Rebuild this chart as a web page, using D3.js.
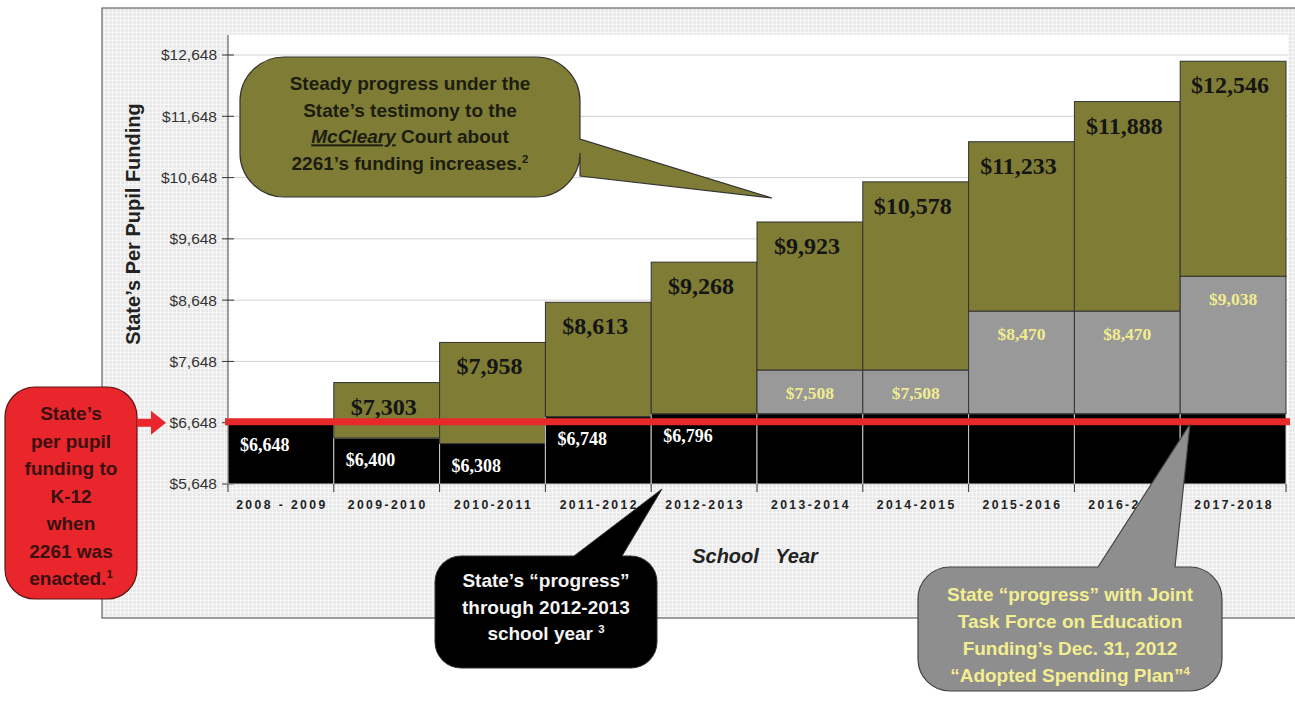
<!DOCTYPE html>
<html>
<head>
<meta charset="utf-8">
<script src="https://cdn.jsdelivr.net/npm/d3@7"></script>
<style>
body { margin: 0; background: #fff; }
svg { display: block; font-family: "Liberation Sans", Arial, sans-serif; }
</style>
</head>
<body>
<script>
// values
var years = ["2008 - 2009", "2009-2010", "2010-2011", "2011-2012", "2012-2013",
             "2013-2014", "2014-2015", "2015-2016", "2016-2017", "2017-2018"];
var actualVals = [6648, 6400, 6308, 6748, 6796, 6796, 6796, 6796, 6796, 6796]; // black
var planVals = [null, null, null, null, null, 7508, 7508, 8470, 8470, 9038];    // grey
var testimonyVals = [6648, 7303, 7958, 8613, 9268, 9923, 10578, 11233, 11888, 12546]; // olive
var yTicks = [5648, 6648, 7648, 8648, 9648, 10648, 11648, 12648];
var enactedVal = 6648;
var actualLabelCount = 5; // black values only labelled up to 2012-2013

var W = 1295, H = 704;
var OLIVE = "#7e7c35", GREY = "#999999", RED = "#e8262b";

var svg = d3.select("body").append("svg")
    .attr("width", W).attr("height", H);

// hatched grey panel behind the chart
var pat = svg.append("defs").append("pattern")
    .attr("id", "grid").attr("width", 4).attr("height", 4)
    .attr("patternUnits", "userSpaceOnUse");
pat.append("rect").attr("width", 4).attr("height", 4).attr("fill", "#e9e9e9");
pat.append("path").attr("d", "M0 0.5H4M0.5 0V4").attr("stroke", "#f6f6f6").attr("stroke-width", 1);

svg.append("rect").attr("x", 102).attr("y", 8).attr("width", 1200).attr("height", 610)
    .attr("fill", "url(#grid)").attr("stroke", "#444").attr("stroke-width", 1);

var x = d3.scaleBand().domain(years).range([228, 1286]).padding(0);
var y = d3.scaleLinear().domain([5648, 12648]).range([484, 55]);

// white plot area
svg.append("rect").attr("x", 228).attr("y", 35).attr("width", 1060).attr("height", 449).attr("fill", "#fff");

// gridlines
svg.append("g").selectAll("line").data(yTicks.slice(1)).enter().append("line")
    .attr("x1", 228).attr("x2", 1288)
    .attr("y1", function (d) { return y(d); }).attr("y2", function (d) { return y(d); })
    .attr("stroke", "#d2d2d2").attr("stroke-width", 1);

// y axis
svg.append("line").attr("x1", 228).attr("x2", 228).attr("y1", 35).attr("y2", 484)
    .attr("stroke", "#444");
var yt = svg.append("g").selectAll("g").data(yTicks).enter().append("g")
    .attr("transform", function (d) { return "translate(0," + y(d) + ")"; });
yt.append("line").attr("x1", 222).attr("x2", 234).attr("stroke", "#333");
yt.append("text").attr("x", 217).attr("dy", "0.35em").attr("text-anchor", "end")
    .attr("font-size", 15.5).attr("fill", "#333")
    .text(function (d) { return d3.format("$,")(d); });

svg.append("text").attr("transform", "translate(140,224) rotate(-90)")
    .attr("text-anchor", "middle").attr("font-size", 20).attr("font-weight", "bold").attr("fill", "#222")
    .text("State\u2019s Per Pupil Funding");

// stacked segments
var segs = [];
years.forEach(function (yr, i) {
    segs.push({ yr: yr, lo: 5648, hi: actualVals[i], fill: "#000", stroke: "#c8c8c8" });
    var top = actualVals[i];
    if (planVals[i] != null) {
        segs.push({ yr: yr, lo: top, hi: planVals[i], fill: GREY, stroke: "#333" });
        top = planVals[i];
    }
    if (testimonyVals[i] > top) {
        segs.push({ yr: yr, lo: top, hi: testimonyVals[i], fill: OLIVE, stroke: "#333" });
    }
});
svg.append("g").selectAll("rect").data(segs).enter().append("rect")
    .attr("x", function (d) { return x(d.yr); })
    .attr("width", x.bandwidth())
    .attr("y", function (d) { return y(d.hi); })
    .attr("height", function (d) { return y(d.lo) - y(d.hi); })
    .attr("fill", function (d) { return d.fill; })
    .attr("stroke", function (d) { return d.stroke; })
    .attr("stroke-width", 1);

var fmt = d3.format("$,");
var serif = "'Liberation Serif', 'Times New Roman', serif";

// olive totals
svg.append("g").selectAll("text").data(years.slice(1)).enter().append("text")
    .attr("x", function (d) { return x(d) + x.bandwidth() / 2 - 3; })
    .attr("y", function (d) { return y(testimonyVals[years.indexOf(d)]) + 32; })
    .attr("text-anchor", "middle").attr("font-family", serif).attr("font-weight", "bold")
    .attr("font-size", 24).attr("fill", "#151515")
    .text(function (d) { return fmt(testimonyVals[years.indexOf(d)]); });

// black values
svg.append("g").selectAll("text").data(years.slice(0, actualLabelCount)).enter().append("text")
    .attr("x", function (d) { return x(d) + 12; })
    .attr("y", function (d) { return y(actualVals[years.indexOf(d)]) + 28; })
    .attr("font-family", serif).attr("font-weight", "bold")
    .attr("font-size", 18).attr("fill", "#fff")
    .text(function (d) { return fmt(actualVals[years.indexOf(d)]); });

// grey plan values
svg.append("g").selectAll("text").data(years.filter(function (d, i) { return planVals[i] != null; }))
    .enter().append("text")
    .attr("x", function (d) { return x(d) + x.bandwidth() / 2; })
    .attr("y", function (d) { return y(planVals[years.indexOf(d)]) + 29; })
    .attr("text-anchor", "middle").attr("font-family", serif).attr("font-weight", "bold")
    .attr("font-size", 17.5).attr("fill", "#f1ec8e")
    .text(function (d) { return fmt(planVals[years.indexOf(d)]); });

// x axis ticks + labels
var xb = x.domain().map(function (d) { return x(d); }).concat([x.range()[1]]);
svg.append("g").selectAll("line").data(xb).enter().append("line")
    .attr("x1", function (d) { return d; }).attr("x2", function (d) { return d; })
    .attr("y1", 484).attr("y2", 492).attr("stroke", "#333");
svg.append("g").selectAll("text").data(years).enter().append("text")
    .attr("x", function (d) { return x(d) + x.bandwidth() / 2 + 1; })
    .attr("y", 509).attr("text-anchor", "middle")
    .attr("font-size", 12.2).attr("font-weight", "bold").attr("letter-spacing", 2.4).attr("fill", "#222")
    .style("white-space", "pre")
    .text(function (d) { return d; });

svg.append("text").attr("x", 755).attr("y", 563).attr("text-anchor", "middle")
    .attr("font-size", 20).attr("font-weight", "bold").attr("font-style", "italic").attr("fill", "#222")
    .style("white-space", "pre").text("School   Year");

// red enacted line
svg.append("line").attr("x1", 225).attr("x2", 1290)
    .attr("y1", y(enactedVal) - 1).attr("y2", y(enactedVal) - 1)
    .attr("stroke", "#e62a2a").attr("stroke-width", 7);

// callout shapes
function boxPath(bx, by, w, h, r, side, a, b, tip) {
    var p = d3.path();
    p.moveTo(bx + r, by);
    if (side === "top") { p.lineTo(a, by); p.lineTo(tip[0], tip[1]); p.lineTo(b, by); }
    p.lineTo(bx + w - r, by);
    p.arcTo(bx + w, by, bx + w, by + r, r);
    if (side === "right") { p.lineTo(bx + w, a); p.lineTo(tip[0], tip[1]); p.lineTo(bx + w, b); }
    p.lineTo(bx + w, by + h - r);
    p.arcTo(bx + w, by + h, bx + w - r, by + h, r);
    p.lineTo(bx + r, by + h);
    p.arcTo(bx, by + h, bx, by + h - r, r);
    p.lineTo(bx, by + r);
    p.arcTo(bx, by, bx + r, by, r);
    p.closePath();
    return p.toString();
}

function addLines(lines, cx, cy, lh, fill, size) {
    var t = svg.append("text").attr("text-anchor", "middle").attr("font-weight", "bold")
        .attr("font-size", size).attr("fill", fill);
    lines.forEach(function (ln, i) {
        var parts = typeof ln === "string" ? [{ t: ln }] : ln;
        parts.forEach(function (pt, j) {
            var ts = t.append("tspan").text(pt.t);
            if (j === 0) ts.attr("x", cx).attr("y", cy + i * lh);
            if (pt.sup) ts.attr("font-size", size * 0.6).attr("dy", -size * 0.38);
            if (pt.it) ts.attr("font-style", "italic").attr("text-decoration", "underline");
        });
    });
}

// olive testimony callout
svg.append("path").attr("d", boxPath(240, 57, 340, 140, 44, "right", 139, 176, [772, 198]))
    .attr("fill", OLIVE).attr("stroke", "#333").attr("stroke-width", 1.2);
addLines([
    "Steady progress under the",
    "State\u2019s testimony to the",
    [{ t: "McCleary", it: true }, { t: " Court about" }],
    [{ t: "2261\u2019s funding increases." }, { t: "2", sup: true }]
], 410, 90, 26.7, "#1c1c10", 19);

// red enacted callout + arrow
svg.append("path").attr("d", boxPath(5, 387, 132, 212, 30))
    .attr("fill", RED).attr("stroke", "#5a1515").attr("stroke-width", 1.2);
svg.append("path").attr("d", "M137," + (y(enactedVal) - 4) + "H151V" + (y(enactedVal) - 12) +
        "L166," + y(enactedVal) + "L151," + (y(enactedVal) + 12) + "V" + (y(enactedVal) + 4) + "H137Z")
    .attr("fill", RED);
addLines([
    "State\u2019s", "per pupil", "funding to", "K-12", "when", "2261 was",
    [{ t: "enacted." }, { t: "1", sup: true }]
], 71, 420, 27.5, "#3a1010", 19);

// black progress callout
svg.append("path").attr("d", boxPath(435, 556, 222, 112, 26, "top", 574, 622, [662, 489]))
    .attr("fill", "#000").attr("stroke", "#333").attr("stroke-width", 1);
addLines([
    "State\u2019s \u201Cprogress\u201D",
    "through 2012-2013",
    [{ t: "school year " }, { t: "3", sup: true }]
], 546, 587, 26.7, "#f4f4f4", 19);

// grey plan callout
svg.append("path").attr("d", boxPath(918, 567, 304, 124, 32, "top", 1098, 1175, [1190, 424]))
    .attr("fill", "#8e8e8e").attr("stroke", "#444").attr("stroke-width", 1.2);
addLines([
    "State \u201Cprogress\u201D with Joint",
    "Task Force on Education",
    "Funding\u2019s Dec. 31, 2012",
    [{ t: "\u201CAdopted Spending Plan\u201D" }, { t: "4", sup: true }]
], 1070, 601, 27, "#f3ee90", 19);
</script>
</body>
</html>
